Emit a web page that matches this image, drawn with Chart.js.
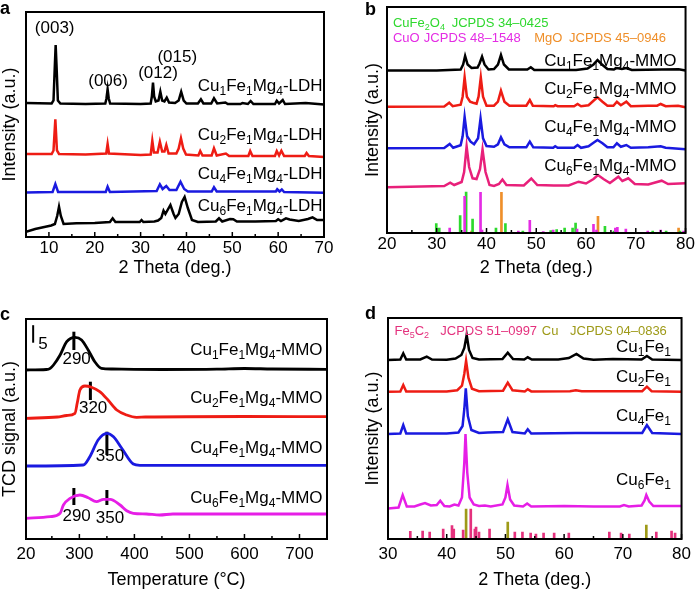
<!DOCTYPE html>
<html>
<head>
<meta charset="utf-8">
<script src="https://cdn.jsdelivr.net/npm/chart.js@4.4.1/dist/chart.umd.min.js"></script>
<style>
html, body { margin: 0; padding: 0; background: #fff; }
#fig { position: relative; width: 696px; height: 591px; overflow: hidden; }
canvas { position: absolute; }
</style>
</head>
<body>
<div id="fig">
  <canvas id="panelA" width="348" height="290" style="left:0;top:0;width:348px;height:290px"></canvas>
  <canvas id="panelB" width="348" height="290" style="left:348px;top:0;width:348px;height:290px"></canvas>
  <canvas id="panelC" width="348" height="301" style="left:0;top:290px;width:348px;height:301px"></canvas>
  <canvas id="panelD" width="348" height="301" style="left:348px;top:290px;width:348px;height:301px"></canvas>
</div>
<script>
const FONT = '"Liberation Sans", Arial, Helvetica, sans-serif';
Chart.defaults.font.family = FONT;
Chart.defaults.color = '#000';
const TICK_SIZE = 17, TITLE_SIZE = 18, LABEL_SIZE = 17;

// ---------- panel a : LDH XRD (2theta, intensity above own baseline) ----------
const aTickValues = [10, 20, 30, 40, 50, 60, 70];
const aTickLabels = ['10', '20', '30', '40', '50', '60', '70'];
const aMinorTicks = [15, 25, 35, 45, 55, 65];
const aNames = ['Cu_1Fe_1Mg_4-LDH', 'Cu_2Fe_1Mg_4-LDH', 'Cu_4Fe_1Mg_4-LDH', 'Cu_6Fe_1Mg_4-LDH'];
const aOffsets = [132.5, 80.5, 45, 15];
const aCu1 = [[5, 1.5], [10.6, 1], [11.0, 4], [11.3, 40], [11.47, 59.5], [11.65, 40], [11.95, 4], [12.5, 1],
  [18, 0.5], [22.3, 1], [22.55, 6], [22.8, 15.2], [23.05, 6], [23.35, 1], [30, 0.5], [32.2, 1], [32.45, 8],
  [32.7, 21.8], [32.95, 8], [33.3, 3], [33.9, 4], [34.3, 12.8], [34.7, 4], [35.2, 3], [35.7, 6.8], [36.2, 2],
  [37.5, 1.5], [38.3, 4], [38.85, 12.8], [39.4, 4], [40, 1], [42.5, 1], [43.15, 5.2], [43.7, 1], [45.4, 1],
  [46.0, 6.2], [46.7, 1], [48.5, 2], [49, 0.5], [51.8, 0.5], [52.2, 1.5], [53.4, 0.5], [54.0, 3.5], [54.6, 0.5],
  [59.3, 0.5], [59.7, 3.8], [60.2, 1], [61.0, 4.5], [61.5, 0.5], [66, 1.5], [70, 0]];
const aCu2 = [[5, 2.5], [10.6, 2.5], [11.0, 6], [11.4, 37.2], [11.75, 6], [12.2, 2.5], [18, 2], [22.5, 3],
  [22.8, 12.5], [23.1, 3], [30, 1.5], [32.2, 2], [32.55, 15.8], [32.9, 4], [33.7, 4], [34.2, 14.8], [34.7, 5],
  [35.2, 5], [35.6, 11.5], [36.1, 3], [37.8, 3], [38.3, 8], [38.8, 18.2], [39.3, 8], [39.9, 2], [42.6, 1],
  [43.0, 5.5], [43.5, 1], [45.5, 1], [46.0, 8.2], [46.6, 1], [48.6, 3], [49.3, 0.5], [53.5, 0.5], [53.9, 5.5],
  [54.4, 0.5], [59.3, 0.5], [59.7, 5.5], [60.2, 1], [60.7, 5.8], [61.3, 0.5], [65.8, 0.5], [66.2, 3.5],
  [66.7, 0.5], [70, -0.5]];
const aCu4 = [[5, -0.5], [10.8, 0], [11.4, 8], [12.0, 0], [22.4, 0], [22.8, 5.3], [23.3, 0], [33.5, 1],
  [34.2, 7.7], [34.8, 3], [35.6, 6], [36.3, 2], [37.8, 2], [38.7, 10.3], [39.5, 3], [40.3, 0.5], [45.5, 0.5],
  [46.0, 4.7], [46.6, 0.5], [59.5, 0.5], [59.8, 2.7], [60.3, 0.5], [60.8, 2.5], [61.3, 0], [70, -0.7]];
const aCu6 = [[5, -9.7], [7, -7], [9, -5], [10.5, -3.5], [11.3, -2], [11.8, 6], [12.2, 15.3], [12.6, 6],
  [13.2, -2], [16, -1.3], [20, -1], [23.3, 0], [23.9, 3.7], [24.5, 0], [29.8, 0], [30.2, 2], [30.6, 0],
  [33.0, 0.5], [33.8, 1.5], [34.5, 4], [35.0, 11.3], [35.4, 8], [36.5, 17], [37.2, 8], [37.6, 4], [38.3, 8],
  [39.0, 20], [39.6, 25], [40.3, 14], [41.2, 2], [42.5, 0], [46.4, 0.5], [47.1, 3.7], [47.8, 0.5], [49.5, 3],
  [50.2, 2.7], [51, 0.5], [55, 0.5], [59.5, 1], [60, 2.7], [60.6, 1], [61.7, 3.7], [62.5, 2.5], [64.5, 1],
  [66.5, 3], [67.5, 4.7], [68.5, 2], [70, 2]];

// ---------- panel b : MMO XRD ----------
const bTickValues = [20, 30, 40, 50, 60, 70, 80];
const bTickLabels = ['20', '30', '40', '50', '60', '70', '80'];
const bMinorTicks = [25, 35, 45, 55, 65, 75];
const bNames = ['Cu_1Fe_1Mg_4-MMO', 'Cu_2Fe_1Mg_4-MMO', 'Cu_4Fe_1Mg_4-MMO', 'Cu_6Fe_1Mg_4-MMO'];
const bOffsets = [162.5, 126.3, 84.7, 46];
const bCu1 = [[20, 0], [30, 0], [34.8, 1], [35.3, 6], [35.7, 14.5], [36.2, 6], [37, 2.5], [38.2, 3], [38.6, 7],
  [39.1, 13.8], [39.6, 6], [40.4, 1], [41.5, 1.5], [42.3, 6], [42.9, 15.5], [43.5, 6], [44.5, 1], [48.2, 1],
  [48.9, 3.2], [49.6, 0.5], [58, 0.5], [60.3, 2], [61.5, 6], [62.3, 10.5], [63.2, 6], [64.3, 1.5], [65.6, 1],
  [66.2, 2.5], [67.2, 1.5], [68.1, 2.5], [69.2, 0.5], [75.2, 1], [78.6, 1.2], [80, 0]];
const bCu2 = [[20, 0], [31.5, 0.3], [32.5, 4], [33.2, 0.5], [34.8, 2], [35.2, 10], [35.6, 29.4], [36.05, 10],
  [36.7, 5], [37.3, 4], [38.0, 3], [38.4, 10], [38.85, 29.4], [39.3, 10], [40.0, 1], [41.5, 1], [42.3, 5],
  [42.9, 16], [43.6, 5], [44.6, 1], [48.0, 1], [48.7, 6.7], [49.3, 1], [53.5, 0.5], [53.8, 1.5], [54.3, 0.5],
  [57.6, 0.5], [58.3, 2.7], [59, 0.5], [60.5, 1.5], [61.5, 6], [62.3, 9.4], [63.3, 5], [64.3, 1], [65.5, 1],
  [66.2, 5], [67, 1.5], [68.1, 5], [69, 0.5], [72.5, 1], [74.3, 1], [75, 2.7], [76, 0.5], [78.5, 1], [80, -0.5]];
const bCu4 = [[20, 0], [31.5, 0.3], [32.6, 4.3], [33.3, 0.5], [34.8, 3], [35.2, 12], [35.6, 31.6], [36.1, 12],
  [36.8, 6.6], [37.5, 4], [38.3, 10], [38.8, 30], [39.3, 10], [40.0, 2.3], [41.5, 1.5], [42.3, 4], [42.9, 11],
  [43.6, 4], [44.6, 1], [48.0, 1], [48.7, 6.6], [49.4, 1], [53.4, 0.5], [53.8, 2], [54.3, 0.5], [57.6, 0.5],
  [58.3, 3.3], [59, 0.5], [60.5, 2], [61.5, 5.5], [62.3, 8.3], [63.3, 5], [64.3, 1], [65.5, 1], [66.2, 5],
  [67, 1.5], [68.1, 3.3], [69, 0.5], [72.5, 1], [75, 2], [76, 0.5], [80, -1]];
const bCu6 = [[20, -0.3], [31.5, 1], [32.7, 4.3], [33.5, 2], [35.0, 5], [35.5, 15], [36.0, 40.7], [36.5, 20],
  [37.2, 8.7], [38.0, 8], [38.7, 18], [39.2, 37.5], [39.8, 15], [40.6, 2], [41.5, 1], [42.5, 3], [43.2, 7.5],
  [44, 2], [47.5, 1.5], [49.0, 8.5], [50.2, 2], [53.5, 1.5], [56.5, 1.5], [58.5, 5.3], [60, 3.5], [61.5, 8],
  [62.4, 12], [63.5, 8], [64.8, 4], [66.5, 10.3], [67.3, 6], [68.5, 8.7], [69.8, 3], [72.5, 2.5], [75.2, 6.3],
  [76.5, 3], [80, 3.7]];
// reference patterns (2theta, relative line height)
const bRefCuFe2O4 = [[29.9, 9.3], [30.5, 5], [34.7, 17.3], [35.9, 41], [37.2, 14], [41.9, 5], [43.8, 9.3],
  [47.3, 2], [52.9, 2.3], [54.1, 3.3], [55.7, 5], [57.3, 5], [57.9, 10], [63.8, 6.7], [65.6, 2], [73.4, 2],
  [76.1, 2], [78.9, 2]];
const bRefCuO = [[32.6, 5], [35.6, 36.7], [38.8, 40.7], [39.1, 3], [46.4, 2], [48.7, 12.7], [51.4, 1.5],
  [53.4, 3], [58.2, 4], [61.5, 8.7], [62.1, 3], [65.9, 5], [66.3, 5.7], [68.0, 4], [72.4, 2], [75.0, 3], [79.6, 2]];
const bRefMgO = [[37.0, 2], [43.0, 40.7], [62.4, 16.7], [78.6, 5]];

// ---------- panel c : H2-TPR (temperature, TCD signal above own baseline) ----------
const cTickValues = [203, 300, 400, 500, 600, 700];
const cTickLabels = ['20', '300', '400', '500', '600', '700'];
const cMinorTicks = [250, 350, 450, 550, 650];
const cNames = ['Cu_1Fe_1Mg_4-MMO', 'Cu_2Fe_1Mg_4-MMO', 'Cu_4Fe_1Mg_4-MMO', 'Cu_6Fe_1Mg_4-MMO'];
const cOffsets = [169.5, 122, 73, 25];
const cCu1 = [[203, -0.5], [240, 0], [247, 1.2], [253, 4.5], [265, 14.5], [277, 27.8], [292, 32.2], [304, 29.5],
  [316, 19.5], [328, 7.8], [340, 1.2], [360, 0.5], [450, 0], [550, 0.3], [600, 1], [650, 0.5], [750, 0.2]];
const cCu2 = [[203, -1.3], [260, 0], [277, 1.5], [292, 3.7], [296, 13.7], [301, 27], [310, 31], [322, 29.7],
  [337, 25.3], [352, 17], [368, 7], [386, 2], [404, -0.3], [420, 0], [600, 0.5], [750, 0.3]];
const cCu4 = [[203, 0], [307, 1], [319, 9.3], [334, 26], [350, 32.7], [362, 29.3], [377, 17.7], [398, 2],
  [410, 0.7], [750, 0.7]];
const cCu6 = [[203, -4.3], [247, -2.7], [265, 0.7], [271, 9], [283, 15.7], [301, 19], [316, 16.3], [331, 12.3],
  [344, 14.7], [356, 14.7], [374, 9], [386, 3.3], [398, 0.7], [422, 0], [446, -1], [470, 0], [750, 0]];
// peak maxima marked on the curves: temperature, label
const cPeakTemps = [290, 320, 350, 290, 350];
const cPeakLabels = ['290', '320', '350', '290', '350'];
const cScaleBar = 5;

// ---------- panel d : spent catalysts XRD ----------
const dTickValues = [30, 40, 50, 60, 70, 80];
const dTickLabels = ['30', '40', '50', '60', '70', '80'];
const dMinorTicks = [35, 45, 55, 65, 75];
const dNames = ['Cu_1Fe_1', 'Cu_2Fe_1', 'Cu_4Fe_1', 'Cu_6Fe_1'];
const dOffsets = [179, 147.3, 105, 31.5];
const dCu1 = [[30, 0], [32.1, 0.5], [32.6, 6.7], [33.1, 0.5], [35.5, 0.5], [36.6, 3.3], [37.5, 0.5], [40, 0.3],
  [41.5, 1.5], [42.5, 5], [43.0, 12], [43.4, 25], [43.8, 10], [44.4, 2], [45.5, 0.5], [49.5, 1], [50.4, 7.3],
  [51.3, 1], [53.2, 0.5], [53.8, 2.7], [54.5, 0.5], [59, 0.5], [60.8, 2], [62.1, 6], [63.3, 1.5], [65, 0.3],
  [68.3, 1], [73.2, 0.5], [74.1, 4], [75, 0.5], [80, 0]];
const dCu2 = [[30, 0], [32.1, 0.3], [32.6, 6.7], [33.1, 0.3], [40, 0.3], [41.8, 1.5], [42.6, 6], [43.0, 18],
  [43.3, 31], [43.7, 14], [44.3, 3], [45.5, 0.5], [49.6, 1], [50.4, 9], [51.2, 1.5], [53.3, 0.3], [53.8, 2.4],
  [54.4, 0.3], [61, 0.5], [62, 1.5], [63, 0.5], [73.3, 0.5], [74.1, 5], [74.9, 0.5], [80, 0]];
const dCu4 = [[30, 0], [32.1, 0.5], [32.6, 9], [33.1, 0.5], [40, 0.5], [42.0, 1.5], [42.7, 8], [43.0, 25],
  [43.25, 45.7], [43.6, 18], [44.2, 4], [45.5, 1], [47, 1.5], [49.6, 2], [50.4, 14.7], [51.2, 2], [53.3, 0.5],
  [53.8, 4.7], [54.4, 0.5], [62, 1], [73.3, 1], [74.1, 9], [75.0, 1], [80, 0]];
const dCu6 = [[30, -1], [31.8, 0], [32.5, 12.5], [33.2, 1], [34.5, 1], [35.5, 3], [36.3, 4.5], [37.3, 2],
  [38.3, 2.5], [38.9, 6.8], [39.6, 1.5], [40.5, 1], [41.3, 3], [42.0, 2], [42.6, 10], [43.0, 45], [43.2, 73.5],
  [43.5, 35], [43.9, 10], [44.6, 3], [45.5, 1.5], [46.5, 2], [47.5, 1], [49.5, 3], [50.0, 10], [50.35, 22.5],
  [50.8, 8], [51.5, 2], [53.0, 1], [53.7, 4], [54.4, 1], [60, 1.5], [65, 1], [69.5, 1], [70.2, 2.5], [71, 1],
  [73.2, 2], [73.7, 7], [74.0, 12.5], [74.5, 6], [75.2, 1.5], [80, 1.5]];
const dRefFe5C2 = [[33.8, 7.7], [35.9, 8], [37.1, 7], [39.4, 10], [40.9, 13.3], [41.2, 10], [42.8, 9], [44.1, 30],
  [44.8, 10], [45.0, 12], [45.5, 7], [47.3, 10], [51.6, 7], [52.9, 7], [54.3, 6], [55.2, 5], [56.5, 6], [58.3, 6],
  [60.8, 6], [67.7, 7], [69.7, 6], [71.1, 5], [75.7, 7], [78.3, 8], [78.9, 6]];
const dRefCu = [[43.3, 30], [50.4, 17], [74.0, 14]];

// colours
const BLACK = '#000000', RED = '#ee1c14', BLUE = '#1a1ae0', MAGENTA = '#e61ee6', PINK = '#e8207a';

// draw text with "_x" meaning subscript x
function drawRich(ctx, text, x, y, size, color, align, bold) {
  const segs = [];
  for (let i = 0; i < text.length; i++) {
    if (text[i] === '_') { segs.push({ t: text[i + 1], sub: true }); i++; continue; }
    const last = segs[segs.length - 1];
    if (last && !last.sub) last.t += text[i]; else segs.push({ t: text[i], sub: false });
  }
  const subSize = Math.round(size * 0.68);
  let w = 0;
  segs.forEach(s => {
    ctx.font = (bold ? 'bold ' : '') + (s.sub ? subSize : size) + 'px ' + FONT;
    s.w = ctx.measureText(s.t).width;
    w += s.w;
  });
  let cx = align === 'right' ? x - w : align === 'center' ? x - w / 2 : x;
  ctx.fillStyle = color;
  ctx.textAlign = 'left';
  ctx.textBaseline = 'middle';
  segs.forEach(s => {
    ctx.font = (bold ? 'bold ' : '') + (s.sub ? subSize : size) + 'px ' + FONT;
    ctx.fillText(s.t, cx, s.sub ? y + size * 0.32 : y);
    cx += s.w;
  });
}

// frame, inward ticks, annotations
function makeDecor(o) {
  return {
    id: 'decor',
    afterDatasetsDraw(chart) {
      const { ctx, chartArea: a, scales: { x, y } } = chart;
      ctx.save();
      ctx.strokeStyle = '#000';
      ctx.lineWidth = 1.5;
      o.major.forEach(v => {
        const px = x.getPixelForValue(v);
        ctx.beginPath(); ctx.moveTo(px, a.bottom); ctx.lineTo(px, a.bottom - 5); ctx.stroke();
      });
      o.minor.forEach(v => {
        const px = x.getPixelForValue(v);
        ctx.beginPath(); ctx.moveTo(px, a.bottom); ctx.lineTo(px, a.bottom - 3); ctx.stroke();
      });
      ctx.lineWidth = 2;
      ctx.strokeRect(a.left, a.top, a.right - a.left, a.bottom - a.top);
      o.texts.forEach(t => {
        drawRich(ctx, t.text, x.getPixelForValue(t.x), y.getPixelForValue(t.y), t.size || LABEL_SIZE,
          t.color || '#000', t.align || 'left', false);
      });
      drawRich(ctx, o.letter[0], o.letter[1], o.letter[2], 18, '#000', 'left', true);
      ctx.restore();
    }
  };
}

function trace(points, offset, color, extra) {
  return Object.assign({
    type: 'line',
    data: points.map(p => ({ x: p[0], y: p[1] + offset })),
    borderColor: color,
    borderWidth: 2.5,
    pointRadius: 0,
    tension: 0,
    fill: false
  }, extra || {});
}

function sticks(points, color) {
  return {
    type: 'bar',
    data: points.map(p => ({ x: p[0], y: p[1] })),
    backgroundColor: color,
    barThickness: 2,
    grouped: false
  };
}

function buildPanel(id, o) {
  new Chart(document.getElementById(id), {
    type: 'line',
    data: { datasets: o.datasets },
    plugins: [makeDecor(o.decor)],
    options: {
      responsive: false,
      animation: false,
      devicePixelRatio: 1,
      layout: { padding: o.pad },
      plugins: { legend: { display: false }, tooltip: { enabled: false } },
      scales: {
        x: {
          type: 'linear', min: o.xMin, max: o.xMax, offset: false,
          afterBuildTicks: s => { s.ticks = o.tickValues.map(v => ({ value: v })); },
          afterFit: s => { s.height = o.xHeight; },
          ticks: {
            autoSkip: false, maxRotation: 0, padding: o.tickPad, font: { size: TICK_SIZE }, color: '#000',
            callback: v => o.tickLabels[o.tickValues.indexOf(v)]
          },
          grid: { display: false, drawTicks: false, offset: false },
          border: { display: false },
          title: { display: true, text: o.xTitle, font: { size: TITLE_SIZE }, color: '#000', padding: { top: 0, bottom: o.xTitlePad } }
        },
        y: {
          type: 'linear', min: 0, max: o.yMax,
          ticks: { display: false },
          grid: { display: false, drawTicks: false },
          border: { display: false },
          afterFit: s => { s.width = o.yWidth; },
          title: { display: true, text: o.yTitle, font: { size: TITLE_SIZE }, color: '#000', padding: { top: o.yTitlePad, bottom: 0 } }
        }
      }
    }
  });
}

function seriesLabels(names, xVal, yVals) {
  return names.map((n, i) => ({ text: n, x: xVal, y: yVals[i], align: 'right' }));
}

// panel a
buildPanel('panelA', {
  pad: { left: 0, top: 12, right: 24, bottom: 0 },
  xMin: 5, xMax: 70, yMax: 225, yWidth: 26, xHeight: 53, tickPad: 1, xTitlePad: 11, yTitlePad: -1,
  tickValues: aTickValues, tickLabels: aTickLabels,
  xTitle: '2 Theta (deg.)', yTitle: 'Intensity (a.u.)',
  datasets: [
    trace(aCu1, aOffsets[0], BLACK), trace(aCu2, aOffsets[1], RED),
    trace(aCu4, aOffsets[2], BLUE), trace(aCu6, aOffsets[3], BLACK)
  ],
  decor: {
    major: aTickValues, minor: aMinorTicks, letter: ['a', 0, 9],
    texts: [
      { text: '(003)', x: 11.25, y: 209, align: 'center' },
      { text: '(006)', x: 22.9, y: 156, align: 'center' },
      { text: '(012)', x: 33.8, y: 164, align: 'center' },
      { text: '(015)', x: 38.0, y: 180, align: 'center' }
    ].concat(seriesLabels(aNames, 69.7, [151, 102, 63, 31]))
  }
});

// panel b
buildPanel('panelB', {
  pad: { left: 0, top: 7, right: 9, bottom: 0 },
  xMin: 20, xMax: 80, yMax: 226, yWidth: 39, xHeight: 57, tickPad: 1, xTitlePad: 11, yTitlePad: 14,
  tickValues: bTickValues, tickLabels: bTickLabels,
  xTitle: '2 Theta (deg.)', yTitle: 'Intensity (a.u.)',
  datasets: [
    sticks(bRefCuO, '#e42ce4'), sticks(bRefCuFe2O4, '#2ed82e'), sticks(bRefMgO, '#ef8f2a'),
    trace(bCu1, bOffsets[0], BLACK), trace(bCu2, bOffsets[1], RED),
    trace(bCu4, bOffsets[2], BLUE), trace(bCu6, bOffsets[3], PINK)
  ],
  decor: {
    major: bTickValues, minor: bMinorTicks, letter: ['b', 17, 10],
    texts: [
      { text: 'CuFe_2O_4', x: 21.2, y: 210, size: 13, color: '#2ed82e' },
      { text: 'JCPDS 34\u20130425', x: 33, y: 210, size: 13, color: '#2ed82e' },
      { text: 'CuO', x: 21.2, y: 195, size: 13, color: '#e42ce4' },
      { text: 'JCPDS 48\u20131548', x: 27.4, y: 195, size: 13, color: '#e42ce4' },
      { text: 'MgO', x: 49.6, y: 195, size: 13, color: '#ef8f2a' },
      { text: 'JCPDS 45\u20130946', x: 56.6, y: 195, size: 13, color: '#ef8f2a' }
    ].concat(seriesLabels(bNames, 78.2, [171.3, 143.7, 105.7, 66.3]))
  }
});

// panel c
const cMarkLow = [189, 139, 84, 34, 34];
const cMarkHigh = [207.3, 157.3, 107.3, 51, 49];
const cMarkSets = cPeakTemps.map((t, i) => trace([[t, cMarkLow[i]], [t, cMarkHigh[i]]], 0, BLACK, { borderWidth: 3 }));
const smooth = { tension: 0.4, cubicInterpolationMode: 'monotone', borderWidth: 2.8 };
buildPanel('panelC', {
  pad: { left: 0, top: 29, right: 21, bottom: 0 },
  xMin: 203, xMax: 750, yMax: 220, yWidth: 26, xHeight: 52, tickPad: 5, xTitlePad: 0, yTitlePad: -1,
  tickValues: cTickValues, tickLabels: cTickLabels,
  xTitle: 'Temperature (\u00b0C)', yTitle: 'TCD signal (a.u.)',
  datasets: [
    trace(cCu1, cOffsets[0], BLACK, smooth), trace(cCu2, cOffsets[1], RED, smooth),
    trace(cCu4, cOffsets[2], BLUE, smooth), trace(cCu6, cOffsets[3], MAGENTA, smooth),
    trace([[216, 196.3], [216, 196.3 + 3.5 * cScaleBar]], 0, BLACK, { borderWidth: 2 })
  ].concat(cMarkSets),
  decor: {
    major: cTickValues, minor: cMinorTicks, letter: ['c', 0, 25],
    texts: [
      { text: String(cScaleBar), x: 234, y: 195, align: 'center' },
      { text: cPeakLabels[0], x: 295, y: 179.7, align: 'center' },
      { text: cPeakLabels[1], x: 325, y: 130.7, align: 'center' },
      { text: cPeakLabels[2], x: 355.6, y: 82.3, align: 'center' },
      { text: cPeakLabels[3], x: 295, y: 23, align: 'center' },
      { text: cPeakLabels[4], x: 355.6, y: 20.7, align: 'center' }
    ].concat(seriesLabels(cNames, 742, [189, 140.7, 90.7, 40.7]))
  }
});

// panel d
buildPanel('panelD', {
  pad: { left: 0, top: 28, right: 9, bottom: 0 },
  xMin: 30, xMax: 80, yMax: 221, yWidth: 40, xHeight: 52, tickPad: 5, xTitlePad: 0, yTitlePad: 14,
  tickValues: dTickValues, tickLabels: dTickLabels,
  xTitle: '2 Theta (deg.)', yTitle: 'Intensity (a.u.)',
  datasets: [
    sticks(dRefFe5C2, '#e4317d'), sticks(dRefCu, '#9e9a18'),
    trace(dCu1, dOffsets[0], BLACK), trace(dCu2, dOffsets[1], RED),
    trace(dCu4, dOffsets[2], BLUE), trace(dCu6, dOffsets[3], MAGENTA)
  ],
  decor: {
    major: dTickValues, minor: dMinorTicks, letter: ['d', 17, 24],
    texts: [
      { text: 'Fe_5C_2', x: 31.1, y: 207.3, size: 13, color: '#e4317d' },
      { text: 'JCPDS 51\u20130997', x: 38.9, y: 207.3, size: 13, color: '#e4317d' },
      { text: 'Cu', x: 56.2, y: 207.3, size: 13, color: '#9e9a18' },
      { text: 'JCPDS 04\u20130836', x: 61.0, y: 207.3, size: 13, color: '#9e9a18' }
    ].concat(seriesLabels(dNames, 78.2, [191.7, 161.7, 123, 59]))
  }
});
</script>
</body>
</html>
